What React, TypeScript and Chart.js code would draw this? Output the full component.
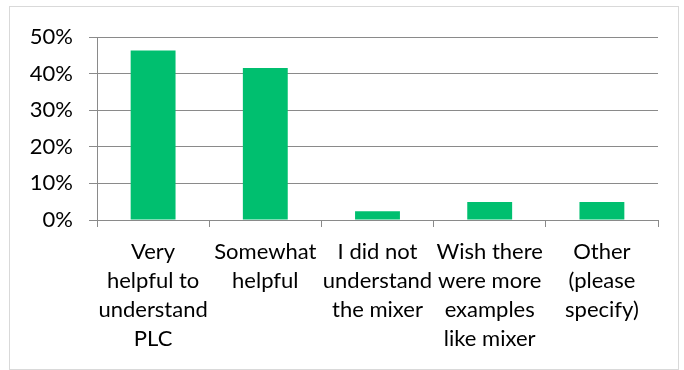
import React, { useEffect, useRef } from "react";
import { Chart, registerables } from "chart.js";

Chart.register(...registerables);

// Survey answers, one entry per line of each wrapped category label
const categories: string[][] = [
  ["Very", "helpful to", "understand", "PLC"],
  ["Somewhat", "helpful"],
  ["I did not", "understand", "the mixer"],
  ["Wish there", "were more", "examples", "like mixer"],
  ["Other", "(please", "specify)"],
];

// Share of responses, in percent
const responseShare: number[] = [46.3, 41.5, 2.4, 4.9, 4.9];

// Value axis ticks, in percent
const yTicks: number[] = [0, 10, 20, 30, 40, 50];

const FONT = "Lato, 'Open Sans', sans-serif";
const GRID = "#8a8a8a";

export default function App() {
  const canvasRef = useRef<HTMLCanvasElement | null>(null);

  useEffect(() => {
    const canvas = canvasRef.current;
    if (!canvas) return;
    const chart = new Chart(canvas, {
      type: "bar",
      data: {
        labels: categories,
        datasets: [
          {
            data: responseShare,
            backgroundColor: "#00BF6F",
            borderWidth: 0,
            categoryPercentage: 0.4,
            barPercentage: 1,
          },
        ],
      },
      options: {
        animation: false,
        responsive: false,
        maintainAspectRatio: false,
        layout: { padding: { left: 10, right: 26, top: 37, bottom: 0 } },
        plugins: {
          legend: { display: false },
          tooltip: { enabled: false },
        },
        scales: {
          x: {
            grid: {
              display: true,
              drawOnChartArea: false,
              drawTicks: true,
              tickLength: 7,
              color: GRID,
              lineWidth: 1,
            },
            border: { display: true, color: GRID, width: 1 },
            ticks: {
              color: "#000",
              font: { family: FONT, size: 22, lineHeight: "29px" },
              padding: 10,
              maxRotation: 0,
              autoSkip: false,
            },
            afterFit: (scale: any) => {
              scale.height = 150;
            },
          },
          y: {
            min: 0,
            max: yTicks[yTicks.length - 1],
            afterBuildTicks: (scale: any) => {
              scale.ticks = yTicks.map((v) => ({ value: v }));
            },
            grid: {
              color: GRID,
              lineWidth: 1,
              tickLength: 8,
              drawTicks: true,
            },
            border: { display: true, color: GRID, width: 1 },
            ticks: {
              color: "#000",
              font: { family: FONT, size: 22 },
              padding: 16,
              callback: (v: any) => `${v}%`,
            },
            afterFit: (scale: any) => {
              scale.width = 87;
            },
          },
        },
      },
    });
    return () => chart.destroy();
  }, []);

  return (
    <div style={{ position: "absolute", left: 0, top: 0, width: 684, height: 370, background: "#fff" }}>
      <div
        style={{
          position: "absolute",
          left: 9,
          top: 6,
          width: 670,
          height: 364,
          boxSizing: "border-box",
          border: "1px solid #d9d9d9",
        }}
      />
      <canvas
        ref={canvasRef}
        width={684}
        height={370}
        style={{ position: "absolute", left: 0, top: 0, width: 684, height: 370 }}
      />
    </div>
  );
}
